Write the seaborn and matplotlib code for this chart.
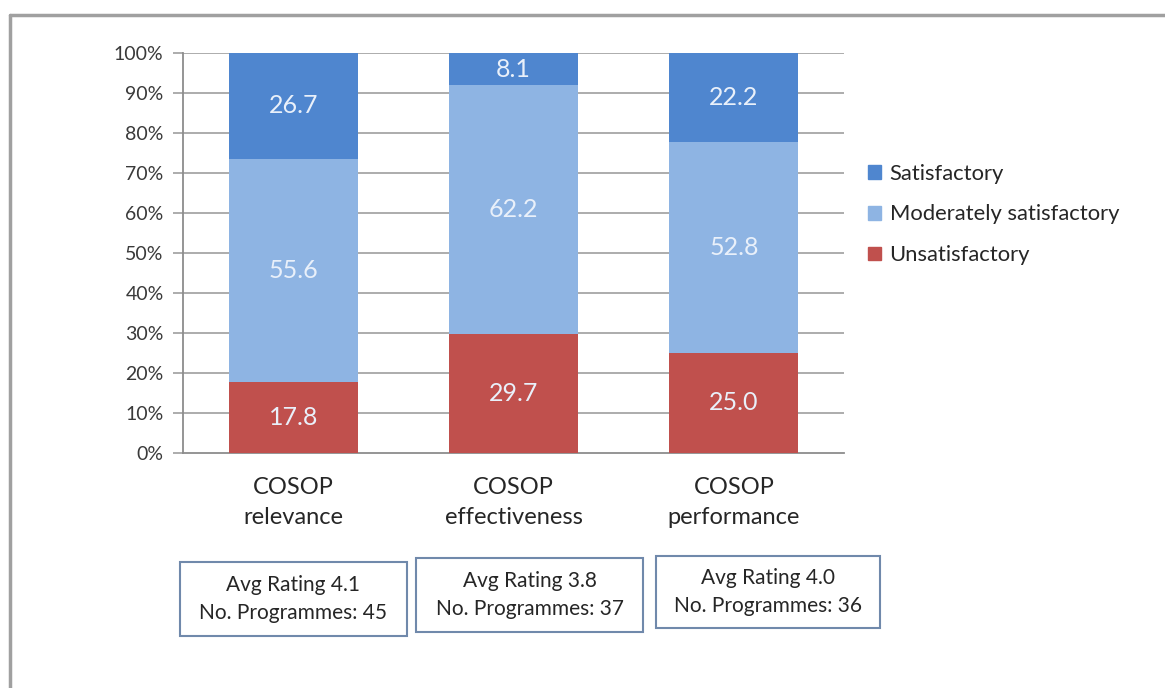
import pandas as pd
import numpy as np
import seaborn as sns
import matplotlib.pyplot as plt
from matplotlib.patches import Rectangle, Patch
from matplotlib.lines import Line2D

# chart values (percent of programmes per rating)
categories = ['COSOP\nrelevance', 'COSOP\neffectiveness', 'COSOP\nperformance']
unsatisfactory = [17.8, 29.7, 25.0]
moderately = [55.6, 62.2, 52.8]
satisfactory = [26.7, 8.1, 22.2]
avg_rating = ['4.1', '3.8', '4.0']
n_programmes = [45, 37, 36]
yticks = [0, 10, 20, 30, 40, 50, 60, 70, 80, 90, 100]

col_sat = '#4f86cf'
col_mod = '#8eb4e3'
col_uns = '#c0504d'

sns.set_theme(style='white')
plt.rcParams['font.family'] = ['Lato', 'DejaVu Sans']

df = pd.DataFrame({
    'cat': categories,
    'uns': unsatisfactory,
    'mod': moderately,
    'sat': satisfactory,
})
df['top_mod'] = df['uns'] + df['mod']
df['top_sat'] = df['top_mod'] + df['sat']

W, H = 1165, 688
fig = plt.figure(figsize=(W / 100, H / 100), dpi=100)
ax = fig.add_axes([183 / W, 1 - 453 / H, (844 - 183) / W, 400 / H])

# gridlines behind bars
ax.set_axisbelow(True)
for y in yticks[1:]:
    ax.axhline(y, color='#a6a6a6', lw=1.3, zorder=0)

bw = 0.585
sns.barplot(data=df, x='cat', y='top_sat', color=col_sat, width=bw, ax=ax, saturation=1, zorder=2)
sns.barplot(data=df, x='cat', y='top_mod', color=col_mod, width=bw, ax=ax, saturation=1, zorder=3)
sns.barplot(data=df, x='cat', y='uns', color=col_uns, width=bw, ax=ax, saturation=1, zorder=4)
for p in ax.patches:
    p.set_linewidth(0)

# segment labels
for i in range(len(categories)):
    lows = [0, df['uns'][i], df['top_mod'][i]]
    highs = [df['uns'][i], df['top_mod'][i], df['top_sat'][i]]
    vals = [unsatisfactory[i], moderately[i], satisfactory[i]]
    for lo, hi, v in zip(lows, highs, vals):
        ax.text(i, (lo + hi) / 2, f'{v:.1f}', ha='center', va='center',
                color='#e9f0fa', fontsize=18, zorder=5)

ax.set_xlim(-0.5, 2.5)
ax.set_ylim(0, 100)
ax.set_yticks(yticks)
ax.set_yticklabels([f'{t}%' for t in yticks], fontsize=14, color='#3a3a3a')
ax.set_xlabel('')
ax.set_ylabel('')
ax.set_xticks(range(3))
ax.set_xticklabels(categories, fontsize=17, color='#262626', linespacing=1.55)
ax.tick_params(axis='x', length=0, pad=17)
ax.set_xticks([-0.5, 0.5, 1.5, 2.5], minor=True)
ax.tick_params(axis='x', which='minor', length=7, width=1.3, color='#8c8c8c', direction='out')
ax.tick_params(axis='y', length=7, width=1.3, color='#a6a6a6', direction='out', pad=7, left=True)

for s in ['top', 'right']:
    ax.spines[s].set_visible(False)
for s in ['left', 'bottom']:
    ax.spines[s].set_color('#8c8c8c')
    ax.spines[s].set_linewidth(1.3)

# legend
handles = [Patch(color=col_sat, label='Satisfactory'),
           Patch(color=col_mod, label='Moderately satisfactory'),
           Patch(color=col_uns, label='Unsatisfactory')]
fig.legend(handles=handles, loc='upper left', bbox_to_anchor=(850 / W, 1 - 146 / H),
           frameon=False, fontsize=15.8, handlelength=0.6, handleheight=0.6,
           handletextpad=0.4, labelspacing=0.95, labelcolor='#262626',
           borderpad=0.3)

# rating boxes under each category
boxes = [(180, 562, 407, 636), (416, 558, 643, 632), (656, 556, 880, 628)]
for (x0, y0, x1, y1), r, n in zip(boxes, avg_rating, n_programmes):
    fig.patches.append(Rectangle((x0 / W, 1 - y1 / H), (x1 - x0) / W, (y1 - y0) / H,
                                 transform=fig.transFigure, fill=False,
                                 edgecolor='#7089ab', lw=1.5))
    fig.text((x0 + x1) / 2 / W, 1 - (y0 + y1) / 2 / H,
             f'Avg Rating {r}\nNo. Programmes: {n}', ha='center', va='center',
             fontsize=15, color='#262626', linespacing=1.5)

# outer frame (left and top edges only, rest is cropped)
fig.lines.append(Line2D([10 / W, 10 / W], [0, 1 - 15 / H], transform=fig.transFigure,
                        color='#a0a0a0', lw=2.5))
fig.lines.append(Line2D([10 / W, 1], [1 - 15 / H, 1 - 15 / H], transform=fig.transFigure,
                        color='#a0a0a0', lw=2.5))

fig.savefig('out.png', dpi=100, facecolor='white')
